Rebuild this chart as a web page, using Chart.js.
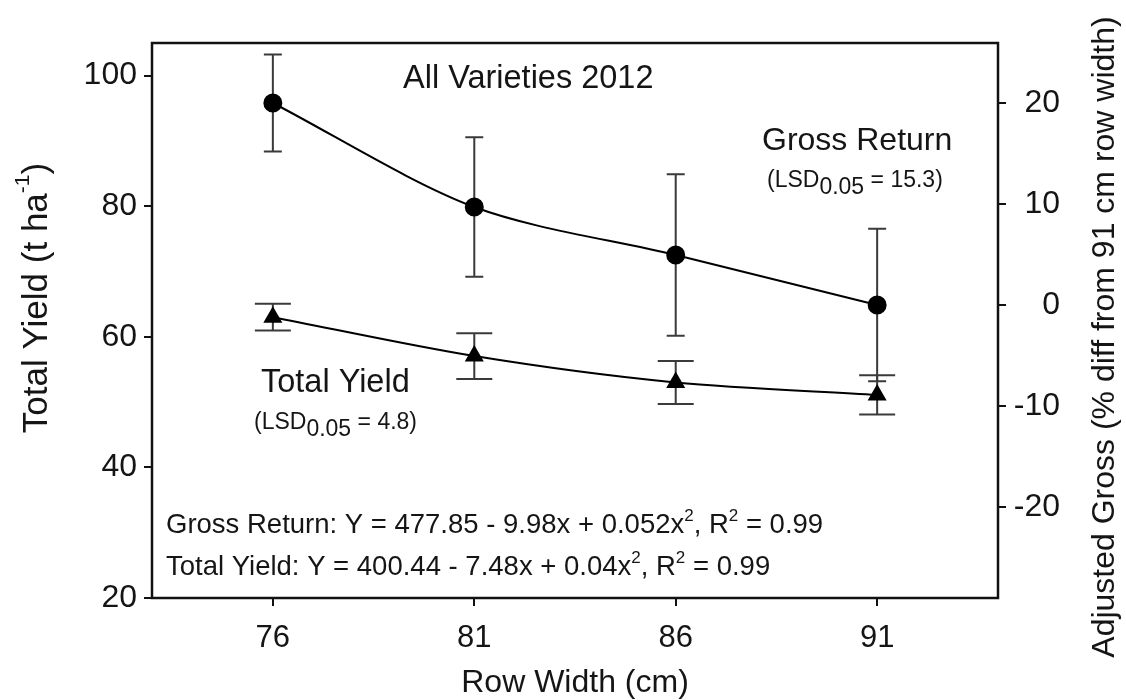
<!DOCTYPE html>
<html><head><meta charset="utf-8">
<script src="https://cdn.jsdelivr.net/npm/chart.js@4"></script>
<style>html,body{margin:0;padding:0;background:#fff}#wrap{width:1126px;height:700px}</style>
</head><body><div id="wrap"><canvas id="c" width="1126" height="700"></canvas></div>
<script>
// ---- data ----
const rowWidths   = [76, 81, 86, 91];
const grossReturn = [20.0, 9.7, 4.95, 0.0];     // right axis (% diff)
const grossErr    = [4.8, 6.9, 8.0, 7.55];
const totalYield  = [63.0, 57.05, 53.0, 51.1];  // left axis (t/ha)
const yieldErr    = [2.05, 3.5, 3.3, 3.0];
const xTickVals   = [76, 81, 86, 91];
const yTickVals   = [20, 40, 60, 80, 100];
const y2TickVals  = [-20, -10, 0, 10, 20];

const FAMILY = '"Liberation Sans", Arial, Helvetica, sans-serif';
const INK = '#151515';

function runsWidth(ctx, runs) {
  let w = 0;
  runs.forEach(([t, size]) => { ctx.font = size + 'px ' + FAMILY; w += ctx.measureText(t).width; });
  return w;
}
function drawRuns(ctx, x, y, runs) {
  let cx = x;
  runs.forEach(([t, size, dy]) => {
    ctx.font = size + 'px ' + FAMILY;
    ctx.fillText(t, cx, y + (dy || 0));
    cx += ctx.measureText(t).width;
  });
}

const errorBars = {
  id: 'errorBars',
  beforeDatasetsDraw(chart) {
    const ctx = chart.ctx, xs = chart.scales.x;
    const draw = (vals, errs, scale, half) => {
      vals.forEach((v, i) => {
        const x = xs.getPixelForValue(rowWidths[i]);
        const yt = scale.getPixelForValue(v + errs[i]);
        const yb = scale.getPixelForValue(v - errs[i]);
        ctx.beginPath();
        ctx.moveTo(x, yt); ctx.lineTo(x, yb);
        ctx.moveTo(x - half, yt); ctx.lineTo(x + half, yt);
        ctx.moveTo(x - half, yb); ctx.lineTo(x + half, yb);
        ctx.stroke();
      });
    };
    ctx.save();
    ctx.strokeStyle = '#3a3a3a';
    ctx.lineWidth = 2;
    draw(grossReturn, grossErr, chart.scales.y2, 9);
    draw(totalYield, yieldErr, chart.scales.y, 18);
    ctx.restore();
  }
};

const frameAndText = {
  id: 'frameAndText',
  afterDraw(chart) {
    const ctx = chart.ctx, a = chart.chartArea;
    ctx.save();
    ctx.strokeStyle = '#111';
    ctx.lineWidth = 2.5;
    ctx.strokeRect(a.left, a.top, a.right - a.left, a.bottom - a.top);

    ctx.fillStyle = INK;
    ctx.textBaseline = 'alphabetic';
    ctx.textAlign = 'left';
    drawRuns(ctx, 403, 88, [['All Varieties 2012', 32.5]]);
    drawRuns(ctx, 762, 150, [['Gross Return', 32]]);
    drawRuns(ctx, 767, 187, [['(LSD', 23], ['0.05', 23, 7], [' = 15.3)', 23]]);
    drawRuns(ctx, 261, 392, [['Total Yield', 32.5]]);
    drawRuns(ctx, 254, 429, [['(LSD', 23], ['0.05', 23, 7], [' = 4.8)', 23]]);
    drawRuns(ctx, 166, 533, [['Gross Return: Y = 477.85 - 9.98x + 0.052x', 27.5], ['2', 17, -12], [', R', 27.5], ['2', 17, -12], [' = 0.99', 27.5]]);
    drawRuns(ctx, 166, 575, [['Total Yield: Y = 400.44 - 7.48x + 0.04x', 27.5], ['2', 17, -12], [', R', 27.5], ['2', 17, -12], [' = 0.99', 27.5]]);

    // left axis title (reads bottom to top)
    let runs = [['Total Yield (t ha', 35], ['-1', 21, -14], [')', 35]];
    ctx.save();
    ctx.translate(37, 298);
    ctx.rotate(-Math.PI / 2);
    ctx.textBaseline = 'middle';
    drawRuns(ctx, -runsWidth(ctx, runs) / 2, 0, runs);
    ctx.restore();

    // right axis title (reads bottom to top)
    runs = [['Adjusted Gross (% diff from 91 cm row width)', 32]];
    ctx.save();
    ctx.translate(1105, 337);
    ctx.rotate(-Math.PI / 2);
    ctx.textBaseline = 'middle';
    drawRuns(ctx, -runsWidth(ctx, runs) / 2, 0, runs);
    ctx.restore();
    ctx.restore();
  }
};

const tickFont = { family: FAMILY, size: 32 };
const gridOpts = { drawOnChartArea: false, drawTicks: true, tickLength: 8, color: '#111', lineWidth: 2 };
const borderOpts = { display: true, color: '#111', width: 2 };

new Chart(document.getElementById('c'), {
  type: 'line',
  data: {
    datasets: [
      {
        label: 'Gross Return',
        data: rowWidths.map((x, i) => ({ x, y: grossReturn[i] })),
        yAxisID: 'y2',
        borderColor: '#000', borderWidth: 2,
        backgroundColor: '#000',
        pointStyle: 'circle', pointRadius: 8.5,
        pointBackgroundColor: '#000', pointBorderColor: '#000',
        tension: 0.3, fill: false
      },
      {
        label: 'Total Yield',
        data: rowWidths.map((x, i) => ({ x, y: totalYield[i] })),
        yAxisID: 'y',
        borderColor: '#000', borderWidth: 2,
        backgroundColor: '#000',
        pointStyle: 'triangle', pointRadius: 9,
        pointBackgroundColor: '#000', pointBorderColor: '#000',
        tension: 0.3, fill: false
      }
    ]
  },
  options: {
    responsive: false,
    animation: false,
    devicePixelRatio: 1,
    layout: { padding: { top: 43, left: 0, right: 66, bottom: 0 } },
    plugins: { legend: { display: false }, tooltip: { enabled: false } },
    scales: {
      x: {
        type: 'linear', position: 'bottom', min: 73, max: 94,
        afterBuildTicks: s => { s.ticks = xTickVals.map(v => ({ value: v })); },
        afterFit: s => { s.height = 102; },
        grid: gridOpts, border: borderOpts,
        ticks: { font: { family: FAMILY, size: 31 }, color: INK, padding: 14, maxRotation: 0 },
        title: { display: true, text: 'Row Width (cm)', color: INK,
                 font: { family: FAMILY, size: 32, lineHeight: 1 }, padding: { top: 0, bottom: 1 } }
      },
      y: {
        type: 'linear', position: 'left', min: 20, max: 105,
        afterBuildTicks: s => { s.ticks = yTickVals.map(v => ({ value: v })); },
        afterFit: s => { s.width = 152; },
        grid: gridOpts, border: borderOpts,
        ticks: { font: tickFont, color: INK, padding: 7 }
      },
      y2: {
        type: 'linear', position: 'right', min: -29.0, max: 25.94,
        afterBuildTicks: s => { s.ticks = y2TickVals.map(v => ({ value: v })); },
        afterFit: s => { s.width = 62; },
        grid: gridOpts, border: borderOpts,
        ticks: { font: tickFont, color: INK, padding: 8, crossAlign: 'far' }
      }
    }
  },
  plugins: [errorBars, frameAndText]
});
</script>
</body></html>
